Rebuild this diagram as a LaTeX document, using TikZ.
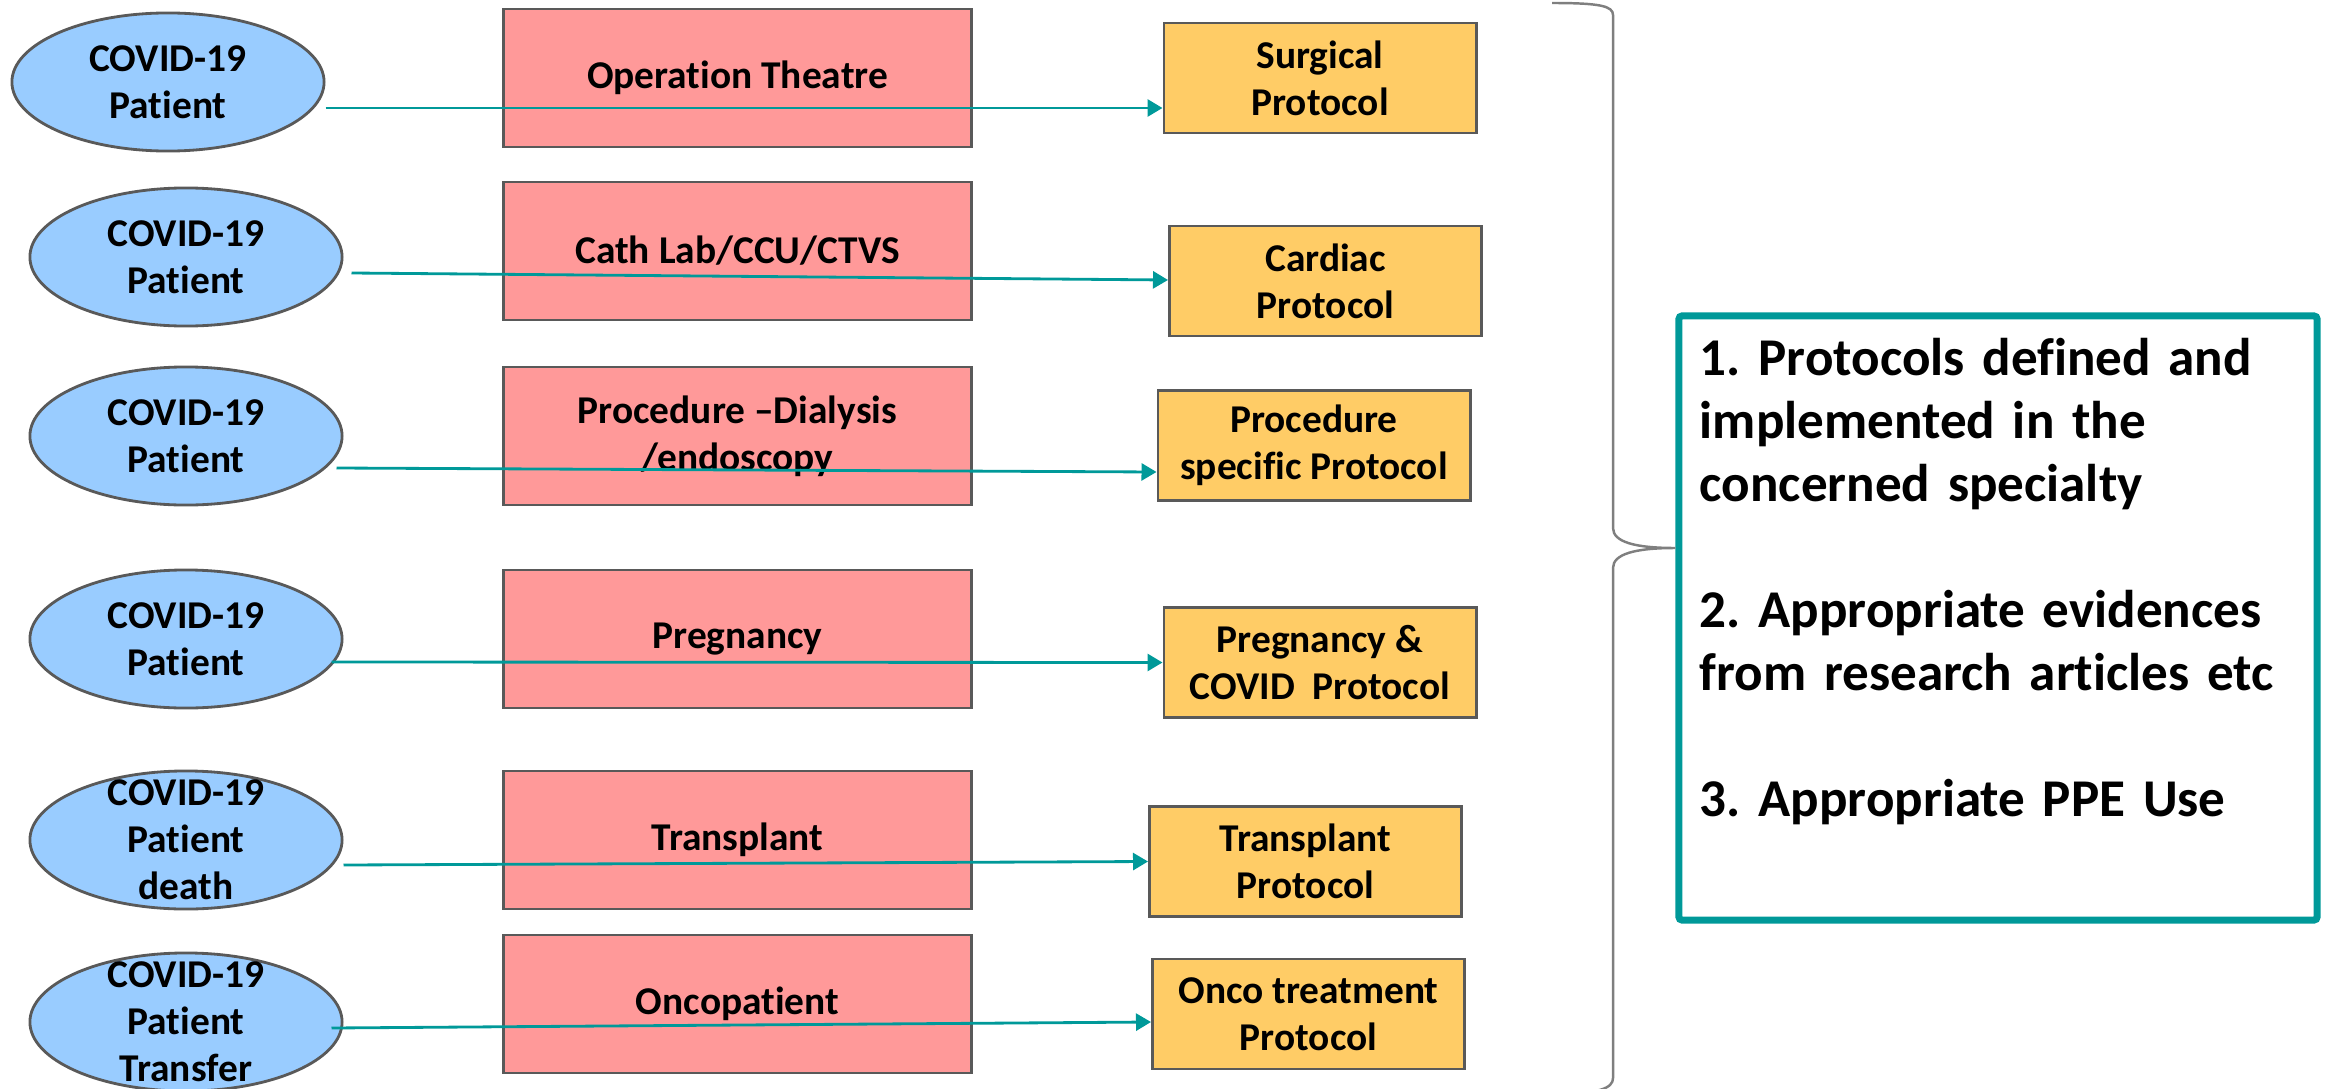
\documentclass[tikz,border=0pt]{standalone}
\usepackage{fontspec}
\setmainfont{Carlito}[Ligatures = NoCommon]
\usetikzlibrary{arrows.meta, shapes.geometric}
\frenchspacing

\definecolor{patblue}{HTML}{99CCFF}
\definecolor{unitpink}{HTML}{FF9999}
\definecolor{protgold}{HTML}{FFCC66}
\definecolor{edgegray}{HTML}{595959}
\definecolor{linkteal}{HTML}{009999}
\definecolor{bracegray}{HTML}{7F7F7F}

\begin{document}
\begin{tikzpicture}[
        x = 0.01cm, y = -0.01cm,
        >= {Triangle[length = 0.15cm, width = 0.17cm]},
        every node/.style = {font = \fontsize{11.2}{13.4}\selectfont\bfseries, align = center},
        patient/.style = {ellipse, draw = edgegray, line width = 0.8pt, fill = patblue,
                          minimum width = 3.12cm, minimum height = 1.38cm},
        unit/.style = {rectangle, draw = edgegray, line width = 0.8pt, fill = unitpink,
                       minimum width = 4.67cm, minimum height = 1.38cm},
        protocol/.style = {rectangle, draw = edgegray, line width = 0.8pt, fill = protgold,
                           minimum width = 3.12cm, minimum height = 1.10cm},
        link/.style = {draw = linkteal, line width = 0.8pt},
        summary/.style = {rectangle, draw = linkteal, line width = 2pt, rounded corners = 1pt,
                          align = left, text width = 5.96cm, inner xsep = 0.21cm,
                          minimum height = 6.04cm,
                          font = \fontsize{15.1}{17.9}\selectfont\bfseries}
    ]

      \useasboundingbox (0,0) rectangle (2334,1088);

      \node[patient] (pat1) at (168,82)   {COVID-19\\Patient};
      \node[patient] (pat2) at (186,257)  {COVID-19\\Patient};
      \node[patient] (pat3) at (186,436)  {COVID-19\\Patient};
      \node[patient] (pat4) at (186,639)  {COVID-19\\Patient};
      \node[patient, inner ysep = -0.15cm] (pat5) at (186,840)  {COVID-19\\Patient\\death};
      \node[patient, inner ysep = -0.15cm] (pat6) at (186,1022) {COVID-19\\Patient\\Transfer};

      \node[unit] (unit1) at (737.5,78)   {Operation Theatre};
      \node[unit] (unit2) at (737.5,251)  {Cath Lab/CCU/CTVS};
      \node[unit] (unit3) at (737.5,436)  {Procedure –Dialysis\\/endoscopy};
      \node[unit] (unit4) at (737.5,639)  {Pregnancy};
      \node[unit] (unit5) at (737.5,840)  {Transplant};
      \node[unit] (unit6) at (737.5,1004) {Oncopatient};

      \node[protocol] (prot1) at (1320,78)    {Surgical\\Protocol};
      \node[protocol] (prot2) at (1325.5,281) {Cardiac\\Protocol};
      \node[protocol] (prot3) at (1314,445.5) {Procedure\\specific Protocol};
      \node[protocol] (prot4) at (1320,662.5) {Pregnancy \&\\COVID\ \ Protocol};
      \node[protocol] (prot5) at (1305.5,861.5) {Transplant\\Protocol};
      \node[protocol] (prot6) at (1308.5,1014)  {Onco treatment\\Protocol};

      \node[summary] (rules) at (1998,618) {1. Protocols defined and\\implemented in the\\concerned specialty\\[17.9pt]2. Appropriate evidences\\from research articles etc\\[17.9pt]3. Appropriate PPE Use\\\strut};

      \path[->]

            ([shift = {(0,26)}]pat1.east)    edge[link] ([shift = {(0,30)}]prot1.west)
            ([shift = {(8,16)}]pat2.east)    edge[link] ([shift = {(0,-1)}]prot2.west)
            ([shift = {(-7,32)}]pat3.east)   edge[link] ([shift = {(0,26.5)}]prot3.west)
            ([shift = {(-12,23)}]pat4.east)  edge[link] (prot4.west)
            ([shift = {(0,25)}]pat5.east)    edge[link] (prot5.west)
            ([shift = {(-12,6)}]pat6.east)   edge[link] ([shift = {(0,8)}]prot6.west);

      \draw[bracegray, line width = 0.7pt]
            (1552,3) .. controls (1600,3) and (1613,6) .. (1613,15)
            -- (1613,528) .. controls (1613,542) and (1635,548) .. (rules.west |- 0,548)
            .. controls (1635,548) and (1613,554) .. (1613,568)
            -- (1613,1078) .. controls (1613,1088) and (1600,1094) .. (1552,1094);

    \end{tikzpicture}
\end{document}
